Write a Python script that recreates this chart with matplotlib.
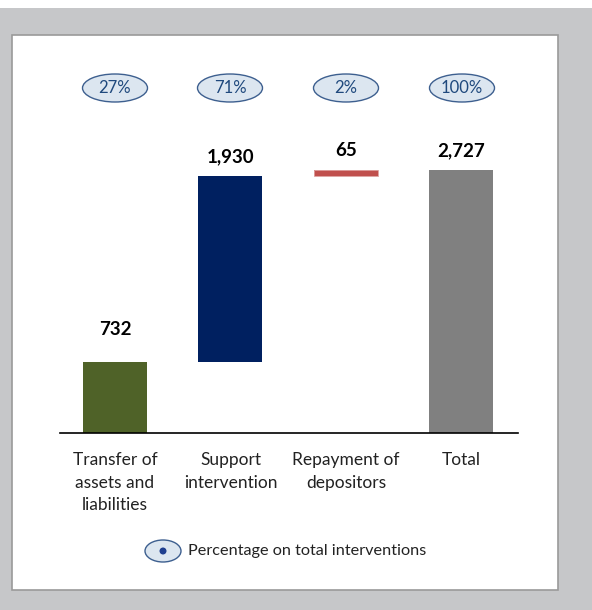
import matplotlib
matplotlib.use("Agg")
import matplotlib.pyplot as plt
from matplotlib.patches import Ellipse, Rectangle

categories = ["Transfer of\nassets and\nliabilities", "Support\nintervention", "Repayment of\ndepositors", "Total"]
values = [732, 1930, 65, 2727]
value_labels = ["732", "1,930", "65", "2,727"]
percent_labels = ["27%", "71%", "2%", "100%"]
colors = ["#4f6228", "#002060", "#c0504d", "#808080"]
legend_text = "Percentage on total interventions"

W, H = 592, 610
fig = plt.figure(figsize=(W / 100, H / 100), dpi=100)
fig.patch.set_facecolor("white")
FONT = ["Lato", "DejaVu Sans"]

def fx(px):
    return px / W

def fy(py):
    return 1 - py / H

# gray background and white panel
fig.patches.append(Rectangle((0, 0), 1, fy(8), transform=fig.transFigure,
                             facecolor="#c6c7c9", edgecolor="none", zorder=0))
fig.patches.append(Rectangle((fx(12), fy(590)), fx(558) - fx(12), fy(35) - fy(590),
                             transform=fig.transFigure, facecolor="white",
                             edgecolor="#9a9a9a", linewidth=1.2, zorder=1))

# main axes: baseline at y=433 px, x from 60 to 518 px
ax_left, ax_right, ax_bottom, ax_top = 60, 518, 433, 60
ax = fig.add_axes([fx(ax_left), fy(ax_bottom), fx(ax_right) - fx(ax_left), fy(ax_top) - fy(ax_bottom)])
ax.set_facecolor("none")
ax.set_zorder(2)
ppx = 263 / 2727.0  # pixels per unit
ax.set_ylim(0, (ax_bottom - ax_top) / ppx)
ax.set_xlim(-0.476, 3.49)

bottoms = [0, values[0], values[0] + values[1], 0]
tops = [b + v for b, v in zip(bottoms, values)]
x = list(range(len(values)))
ax.bar(x, values, bottom=bottoms, width=0.555, color=colors, edgecolor="none")
ax.bar([2], [values[2]], bottom=[bottoms[2]], width=0.555, color=colors[2],
       edgecolor="#e0a8a6", linewidth=0.6)

label_offsets = [24, 11, 11, 11]
for xi, t, lab, off in zip(x, tops, value_labels, label_offsets):
    ax.annotate(lab, (xi, t), xytext=(0, off), textcoords="offset pixels",
                ha="center", va="bottom", fontsize=13.5, fontweight="bold",
                family=FONT, color="black")

for s in ["top", "right", "left"]:
    ax.spines[s].set_visible(False)
ax.spines["bottom"].set_color("black")
ax.spines["bottom"].set_linewidth(1.2)
ax.set_yticks([])
ax.set_xticks(x)
ax.set_xticklabels(categories, fontsize=12.5, family=FONT, color="#222222", linespacing=1.5)
ax.tick_params(axis="x", length=0, pad=14)

# percentage ellipses
centers_px = [115, 230, 346, 462]
for cx, p in zip(centers_px, percent_labels):
    e = Ellipse((fx(cx), fy(88)), fx(65), 28 / H, transform=fig.transFigure,
                facecolor="#dce6f0", edgecolor="#3d5f8f", linewidth=1.0, zorder=3)
    fig.patches.append(e)
    fig.text(fx(cx), fy(88), p, ha="center", va="center", fontsize=12,
             family=FONT, color="#1f497d", zorder=4)

# legend
fig.patches.append(Ellipse((fx(163), fy(551)), fx(36), 22 / H, transform=fig.transFigure,
                           facecolor="#dce6f0", edgecolor="#3d5f8f", linewidth=1.0, zorder=3))
fig.patches.append(Ellipse((fx(163), fy(551)), fx(7), 7 / H, transform=fig.transFigure,
                           facecolor="#1f3f8f", edgecolor="none", zorder=4))
fig.text(fx(188), fy(551), legend_text, ha="left", va="center", fontsize=11.7,
         family=FONT, color="#222222", zorder=4)

fig.savefig("out.png", dpi=100, facecolor=fig.get_facecolor())
